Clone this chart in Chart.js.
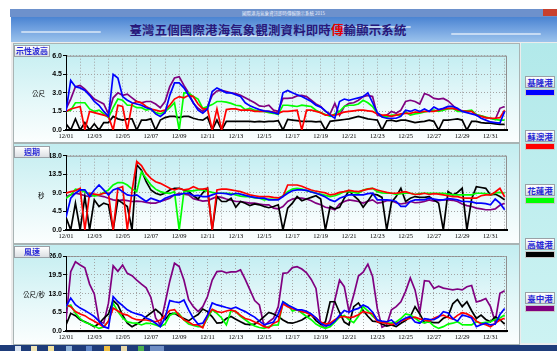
<!DOCTYPE html>
<html>
<head>
<meta charset="utf-8">
<script src="https://cdn.jsdelivr.net/npm/chart.js@4.4.1/dist/chart.umd.min.js"></script>
<style>
  html, body { margin: 0; padding: 0; }
  body { width: 557px; height: 351px; position: relative; overflow: hidden; background: #fff;
         font-family: "Noto Sans CJK TC", "Noto Sans", sans-serif; }
  .abs { position: absolute; }
  #titlebar { left: 10px; top: 9px; width: 547px; height: 8px; background: #6d91cc; }
  #titlebar .cap { position: absolute; left: 0; width: 100%; top: 1px; text-align: center;
                   font-size: 4.5px; line-height: 6px; color: #e8eefa; }
  #closeBtn { left: 543px; top: 9px; width: 14px; height: 7px; background: #c8402e; }
  #banner { left: 11px; top: 17px; width: 546px; height: 25px;
            background: linear-gradient(180deg, #4a84d2 0%, #6fa0df 45%, #9cc3ec 100%); overflow: hidden; }
  .streak { position: absolute; height: 2px; background: rgba(255,255,255,0.55); border-radius: 2px; }
  #title { left: 11px; top: 21px; width: 514px; text-align: center; font-size: 12.4px; font-weight: bold;
           color: #28187a; line-height: 18px; letter-spacing: 0.2px; }
  #main { left: 11px; top: 42px; width: 546px; height: 303px; background: #ececec; }
  .panel { left: 13px; width: 505px; border: 1px solid #a9b4b4;
           background: linear-gradient(180deg, #c2edf0 0%, #e6f8f9 60%, #fbfefe 100%); }
  #side { left: 521px; top: 43px; width: 36px; height: 300px;
          background: linear-gradient(180deg, #b2e9ea 0%, #cdf3f3 100%); }
  .tag { position: absolute; border: 1px solid #9aa0a6; background: linear-gradient(180deg, #ffffff, #dcdfe3);
         color: #2828d6; font-weight: bold; text-align: center; white-space: nowrap; }
  .unit { position: absolute; font-size: 6.5px; color: #000; white-space: nowrap; }
  canvas { position: absolute; left: 0; }
  #taskbar { left: 0; top: 345px; width: 557px; height: 6px; background: #1e3c7a; }
  .icon { position: absolute; top: 346px; width: 6px; height: 5px; }
</style>
</head>
<body>
<div id="titlebar" class="abs"><div class="cap">國際港海氣象資訊即時傳輸顯示系統 2015</div></div>
<div id="closeBtn" class="abs"></div>
<div id="banner" class="abs">
  <div class="streak" style="left:10px;top:14px;width:80px"></div>
  <div class="streak" style="left:150px;top:18px;width:110px"></div>
  <div class="streak" style="left:330px;top:9px;width:70px"></div>
  <div class="streak" style="left:440px;top:16px;width:90px"></div>
</div>
<div id="title" class="abs">臺灣五個國際港海氣象觀測資料即時<span style="color:#e60000">傳</span>輸顯示系統</div>
<div id="main" class="abs"></div>
<div class="abs panel" style="top:43px;height:98px"></div>
<div class="abs panel" style="top:143px;height:99px"></div>
<div class="abs panel" style="top:244px;height:99px"></div>
<div id="side" class="abs"></div>

<canvas id="waveChart" width="519" height="100" style="top:43px"></canvas>
<canvas id="periodChart" width="519" height="100" style="top:143px"></canvas>
<canvas id="windChart" width="519" height="100" style="top:243px"></canvas>

<div class="tag" style="left:14px;top:45px;width:34px;height:10px;font-size:8px;line-height:10px">示性波高</div>
<div class="tag" style="left:14px;top:146px;width:34px;height:10px;font-size:8px;line-height:10px">週期</div>
<div class="tag" style="left:14px;top:246px;width:34px;height:10px;font-size:8px;line-height:10px">風速</div>
<div class="unit" style="left:32px;top:88px">公尺</div>
<div class="unit" style="left:38px;top:190px">秒</div>
<div class="unit" style="left:23px;top:289px">公尺/秒</div>

<div id="legend"></div>

<div id="taskbar" class="abs"></div>
<div class="icon" style="left:15px;background:#d9e4f2"></div>
<div class="icon" style="left:31px;background:#f1e6b8"></div>
<div class="icon" style="left:48px;background:#f3e3a0"></div>
<div class="icon" style="left:66px;background:#8fb3d9"></div>
<div class="icon" style="left:86px;background:#5f86c8"></div>
<div class="icon" style="left:104px;background:#f0c040"></div>
<div class="icon" style="left:121px;background:#e8d9a8"></div>
<div class="icon" style="left:138px;background:#4caf50"></div>
<div class="icon" style="left:150px;width:14px;background:#6f8fc4"></div>

<script>
// sampling: one reading every 8 hours from 12/01 00:00
const stepHours = 8;
const spanHours = 748;

const dateLabels = ['12/01', '12/03', '12/05', '12/07', '12/09', '12/11', '12/13', '12/15',
                    '12/17', '12/19', '12/21', '12/23', '12/25', '12/27', '12/29', '12/31'];
const waveTicks = [0, 1.5, 3.0, 4.5, 6.0];
const periodTicks = [0, 4.5, 9.0, 13.5, 18.0];
const windTicks = [0, 6.5, 13.0, 19.5, 26.0];

const ports = ['基隆港', '蘇澳港', '花蓮港', '高雄港', '臺中港'];
const portColors = ['#0000ff', '#ff0000', '#00ff00', '#000000', '#800080'];

// 示性波高 (m)
const waveKeelung = [1.5,4.0,3.5,3.4,3.2,2.8,2.3,2.0,1.5,1.1,4.5,4.2,2.7,2.4,2.2,2.1,2.0,1.8,1.7,1.3,1.1,1.4,2.8,3.8,3.8,3.4,2.8,
  2.2,1.6,1.35,1.7,3.1,3.4,3.2,3.0,3.0,2.85,2.7,2.2,1.95,1.8,1.65,1.55,1.5,1.4,1.3,3.0,3.2,3.0,2.85,2.7,2.5,2.3,2.0,1.85,1.55,1.2,0.95,2.3,2.5,2.4,2.5,2.6,2.7,3.0,2.2,
  1.4,1.05,0.95,0.95,0.95,1.1,1.6,1.5,1.65,1.5,1.7,1.5,1.85,1.65,1.75,1.9,1.9,1.75,1.5,1.4,1.3,1.2,0.95,0.8,0.65,0.6,0.55,1.5];
const waveSuao = [1.5,1.7,1.8,1.9,0,1.5,1.4,1.3,1.2,1.1,0,2.0,1.9,0,2.1,2.3,2.2,1.9,1.7,1.6,1.5,1.6,2.0,2.5,2.7,2.6,2.8,
  2.7,2.1,1.7,1.7,0,1.7,0,1.65,1.7,1.7,1.6,1.6,1.6,1.5,1.5,1.5,1.5,1.45,1.35,1.5,1.5,1.55,1.6,0,1.6,1.6,1.5,1.4,1.2,1.2,1.2,1.3,1.45,1.5,1.55,1.6,1.6,1.55,1.5,
  1.3,1.2,1.2,1.1,1.2,1.3,1.35,1.35,1.45,1.45,1.5,1.5,1.5,1.6,1.7,1.75,1.75,1.65,1.55,1.5,1.5,1.2,1.1,1.0,0.95,0.95,1.0,1.6];
const waveHualien = [1.5,1.6,2.2,2.2,2.2,1.7,1.5,1.6,1.3,1.0,1.8,2.5,2.4,2.0,2.0,1.8,1.8,1.6,1.7,1.4,1.3,1.5,1.8,2.2,0,3.0,3.0,
  2.7,2.5,1.75,1.9,2.05,2.3,2.3,2.25,2.15,2.0,1.95,1.65,1.75,1.6,1.5,1.5,1.4,1.35,1.25,2.0,2.0,1.95,1.9,2.0,1.95,1.9,1.6,1.4,1.25,1.1,1.3,1.5,1.9,2.0,2.0,2.1,2.4,2.2,1.9,
  1.35,1.15,1.05,1.2,1.2,1.2,1.45,1.2,1.3,1.35,1.45,1.55,1.6,1.5,1.6,1.7,1.75,1.5,1.5,1.55,1.6,1.25,1.15,1.05,0.95,0.85,0.8,0.8];
const waveKaohsiung = [0.5,0,0.9,0,0.6,0,0.5,0,0.6,0.6,1.1,0.9,0.8,0.9,0.9,0,0.8,0.8,0.9,0,0.8,1.0,1.1,1.1,1.0,1.1,1.1,
  0.95,0.85,0.8,1.05,0,0.8,0,0.7,0.7,0.7,0.7,0.7,0.7,0.65,0.7,0.65,0.7,0.7,0.75,0,0.85,0.8,0.75,0.7,0.7,0.7,0.65,0.7,0,0.7,0.75,0.8,0.85,0.9,1.0,1.1,1.0,0.9,0.85,
  0.8,0,0.75,0.8,0.7,0.8,0.8,0.7,0.6,0.65,0.7,0.8,0.7,0,0.8,0.8,0.85,0.9,0.8,0,0.7,0.7,0.6,0.55,0.55,0.5,0.45,0.45];
const waveTaichung = [1.7,2.5,3.5,3.6,3.3,2.9,2.5,2.3,2.1,1.3,2.6,3.0,2.8,2.9,2.6,2.3,2.2,2.3,2.3,2.1,1.8,2.3,3.5,4.2,4.3,3.6,3.0,
  2.15,1.75,1.5,1.9,2.8,3.15,3.2,3.1,3.0,2.95,2.8,2.6,2.4,2.2,1.95,1.9,2.0,1.6,1.5,2.55,2.55,2.6,2.75,2.8,2.7,2.4,2.1,1.9,1.5,1.3,2.15,1.2,1.9,2.15,2.2,2.4,2.7,2.8,2.7,
  1.2,1.1,1.2,1.5,1.35,1.6,2.3,2.4,2.3,2.1,2.95,2.8,2.55,2.5,2.55,2.35,2.0,1.6,1.5,1.55,1.55,1.2,1.15,1.0,0.95,0.85,1.75,1.9];

// 週期 (s)
const periodKeelung = [3.1,7.7,8.9,9.7,9.7,8.1,9.7,10.9,9.7,8.5,9.7,10.1,9.3,8.5,8.3,8.5,7.7,6.9,7.7,7.3,6.9,7.7,8.1,8.5,8.5,8.9,8.9,
  8.3,8.4,8.1,8.1,8.5,8.9,8.9,8.8,8.5,8.9,8.7,8.4,8.1,7.9,7.7,7.7,7.3,7.3,7.3,8.1,8.9,9.5,9.7,9.7,9.6,9.2,8.9,8.5,8.0,7.3,6.9,7.7,8.1,8.5,8.5,8.5,8.5,8.8,8.9,
  7.3,7.3,7.3,7.2,6.9,5.7,5.7,6.9,7.3,7.3,7.3,7.7,7.5,7.3,7.3,7.6,7.5,7.3,6.9,6.9,6.8,6.5,6.5,6.4,6.1,7.5,6.5,4.9];
const periodSuao = [8.9,9.3,9.5,10.1,0,8.9,8.7,8.5,8.9,8.9,0,10.1,10.5,0,9.5,16.6,15.6,13.7,12.5,11.7,11.3,10.7,10.1,9.7,10.1,9.7,9.9,
  10.5,10.0,9.9,10.1,0,9.7,9.9,9.9,9.7,9.5,9.3,8.9,8.5,8.3,8.1,8.1,8.1,7.9,7.8,8.1,10.9,10.9,10.9,10.6,10.1,9.7,9.4,9.2,9.0,8.5,8.7,9.1,9.3,9.6,9.4,9.3,9.6,9.9,10.1,
  9.7,9.4,9.1,8.9,8.9,9.1,9.3,8.9,8.6,8.7,8.9,8.6,8.8,8.7,8.5,8.3,8.1,8.1,7.8,7.7,7.7,7.7,8.3,8.5,8.5,9.2,10.1,8.0];
const periodHualien = [7.7,8.5,9.9,9.7,9.2,8.7,8.2,8.5,9.1,9.7,10.9,11.5,11.5,10.9,9.9,9.3,14.1,12.5,10.9,9.9,9.3,9.0,8.9,9.3,0,9.3,9.5,
  9.5,9.7,9.7,9.4,9.1,8.9,8.9,8.9,8.8,8.5,8.2,8.1,8.1,7.8,7.7,7.3,7.5,7.4,7.5,8.3,9.3,9.9,10.1,9.9,9.5,9.3,8.9,8.7,8.4,8.1,8.3,8.7,9.3,9.3,9.1,8.9,9.7,10.0,10.1,
  9.3,9.0,8.9,8.9,8.6,8.8,8.9,8.9,8.6,8.8,8.9,8.9,8.9,8.9,8.9,8.7,8.5,8.5,8.5,8.5,8.5,8.9,8.9,8.8,8.5,9.0,9.1,8.9];
const periodKaohsiung = [3.1,0,6.5,0,8.1,0,7.3,5.7,6.5,6.1,0,7.3,6.5,5.7,0,15.8,14.5,11.7,9.7,8.9,8.5,8.9,9.7,10.1,10.1,9.7,9.3,
  8.3,7.5,9.0,10.1,0,8.1,6.9,6.9,7.7,5.5,6.9,6.5,5.9,6.3,6.1,5.7,5.4,5.7,6.1,0,5.3,6.5,8.1,7.1,7.5,7.9,8.3,7.5,0,5.7,5.1,5.5,7.7,9.5,8.3,7.3,5.5,7.0,8.7,
  8.5,7.9,0,6.7,8.1,10.1,6.9,7.7,8.1,7.9,7.9,8.1,7.3,6.5,0,9.3,8.5,9.1,10.1,0,7.5,10.5,10.3,10.1,8.5,8.7,8.1,7.3];
const periodTaichung = [8.1,8.5,8.9,8.7,8.3,8.1,8.5,8.3,8.1,7.7,7.3,7.1,7.3,7.1,6.9,7.0,6.9,6.7,6.5,6.5,6.9,7.3,7.7,8.5,8.9,8.7,8.5,
  7.6,7.3,7.0,7.1,7.6,8.1,7.9,7.5,7.2,6.9,6.9,6.7,6.5,6.5,6.3,6.1,6.1,5.3,5.1,5.7,6.9,7.5,7.7,7.7,7.5,7.1,6.5,6.1,5.5,5.3,4.9,6.3,6.9,7.3,7.1,6.9,6.5,7.0,7.3,
  6.5,6.7,7.1,7.1,6.6,6.3,6.5,6.9,6.6,6.7,6.9,7.3,7.0,7.1,7.3,7.3,7.2,6.9,6.3,5.9,5.7,5.3,5.1,4.9,4.9,5.1,6.0,6.5];

// 風速 (m/s)
const windKeelung = [8.5,11.5,9.2,8.0,7.2,6.2,5.1,3.5,1.6,1.0,12.0,10.2,8.9,7.4,6.6,6.0,5.6,4.6,3.9,2.8,1.6,4.6,10.6,10.2,9.9,10.8,7.4,
  4.5,2.5,2.8,5.6,9.8,9.1,8.7,8.2,7.8,8.3,7.5,6.8,5.8,4.9,3.5,2.3,2.7,3.2,6.0,10.2,9.1,8.3,7.4,7.4,6.9,6.0,4.6,2.8,1.9,2.2,3.5,5.5,7.2,6.6,7.4,7.9,9.1,8.3,6.6,
  3.9,3.5,3.3,3.9,2.3,3.7,4.6,5.1,3.2,2.8,4.4,4.1,4.0,4.9,6.8,6.3,4.4,3.5,5.6,5.2,4.6,1.6,2.3,2.8,2.2,2.5,5.8,7.9];
const windSuao = [9.1,8.5,6.8,6.0,5.4,4.3,3.5,2.5,1.5,3.5,8.0,7.0,6.0,5.6,4.6,4.0,3.9,3.9,3.6,3.3,3.9,5.5,7.2,7.5,5.5,4.0,3.2,
  2.2,2.2,1.2,5.5,7.6,6.8,6.5,7.0,7.4,6.8,5.5,4.4,4.0,3.2,2.5,1.6,1.2,2.8,3.5,9.5,8.5,7.8,7.4,6.8,6.4,5.5,4.6,3.2,2.5,2.8,4.0,4.9,5.1,4.7,5.0,5.7,6.8,6.4,6.1,
  3.3,3.0,2.8,2.3,2.7,3.5,4.1,4.5,4.9,4.3,3.9,3.5,4.5,5.2,5.6,4.8,4.2,5.5,6.4,6.0,5.1,3.5,2.7,2.3,1.6,2.8,3.9,4.5];
const windHualien = [8.5,9.1,6.2,4.4,3.1,2.5,1.8,1.0,1.5,3.5,9.7,6.8,4.6,3.3,2.9,2.8,2.2,2.8,2.7,2.2,1.6,2.5,5.5,6.3,6.0,3.9,2.5,
  2.0,1.6,1.6,4.6,7.4,6.2,4.6,2.2,7.2,6.8,5.2,4.0,2.8,1.8,1.3,1.0,1.6,2.1,2.2,10.2,9.2,7.0,7.5,6.3,5.1,4.0,2.5,1.6,1.0,1.6,3.2,4.9,5.5,4.0,3.0,5.2,8.5,7.1,5.2,
  3.9,3.2,2.8,2.8,3.2,4.4,6.0,5.6,4.6,3.3,2.9,3.3,1.8,1.0,1.6,2.5,2.8,3.3,2.3,2.2,2.2,3.3,2.8,3.1,3.3,4.1,4.6,5.6];
const windKaohsiung = [2.2,6.2,5.4,4.0,3.3,2.5,1.6,2.7,4.5,6.0,10.6,9.1,5.6,2.8,1.6,2.5,3.5,5.1,6.3,7.6,6.2,4.0,6.0,6.2,5.2,4.4,3.6,
  4.8,5.8,7.7,6.8,5.0,2.8,3.0,4.4,5.1,4.2,3.3,2.5,2.3,2.5,3.6,5.1,6.5,6.0,5.1,3.9,3.0,2.8,3.3,3.9,4.9,5.7,3.7,2.4,3.2,10.2,10.2,6.5,3.2,2.2,8.5,9.8,7.2,5.2,3.5,
  3.3,2.5,1.8,2.2,1.6,2.8,3.7,5.1,8.5,6.0,3.0,3.3,3.0,3.0,4.5,5.1,9.5,11.0,8.5,10.2,7.1,4.4,5.6,4.1,3.3,5.0,4.0,2.5];
const windTaichung = [3.9,20.6,24.0,22.9,21.9,16.3,12.9,3.5,2.8,9.7,22.6,20.7,22.9,20.0,19.2,17.7,16.3,15.0,11.7,4.6,2.2,9.7,17.3,23.5,22.4,17.7,10.9,
  8.5,6.8,8.5,12.0,17.7,20.6,20.8,20.2,20.5,20.5,21.2,17.9,14.3,10.6,9.1,1.8,3.3,4.5,8.5,20.0,20.2,22.0,22.3,21.5,20.2,17.9,14.8,2.5,1.0,3.9,10.8,17.7,15.4,6.8,12.5,19.1,20.4,23.2,18.9,
  7.9,1.4,2.2,7.4,8.5,10.2,13.8,18.4,14.3,6.5,17.5,17.3,14.8,15.6,14.9,14.6,14.3,14.6,14.3,15.4,15.8,10.1,10.6,11.3,8.5,3.3,13.1,14.0];

// plot background gradient + frame
const plotFrame = {
  id: 'plotFrame',
  beforeDraw(chart) {
    const { ctx, chartArea: a } = chart;
    const g = ctx.createLinearGradient(0, a.top, 0, a.bottom);
    g.addColorStop(0, '#c4eef2');
    g.addColorStop(1, '#ffffff');
    ctx.save();
    ctx.fillStyle = g;
    ctx.fillRect(a.left, a.top, a.right - a.left, a.bottom - a.top);
    ctx.strokeStyle = '#8f8f8f';
    ctx.lineWidth = 1;
    ctx.strokeRect(a.left + 0.5, a.top + 0.5, a.right - a.left - 1, a.bottom - a.top);
    ctx.restore();
  }
};

function makeChart(id, ticks, series, padTop, axisH) {
  const yMax = ticks[ticks.length - 1];
  const yStep = ticks[1] - ticks[0];
  return new Chart(document.getElementById(id), {
    type: 'line',
    data: {
      datasets: series.map((vals, k) => ({
        label: ports[k],
        data: vals.map((v, i) => ({ x: i * stepHours, y: v })),
        borderColor: portColors[k],
        borderWidth: 1.7,
        pointRadius: 0,
        tension: 0,
        fill: false
      }))
    },
    options: {
      responsive: false,
      animation: false,
      events: [],
      layout: { padding: { left: 0, right: 12, top: padTop, bottom: 0 } },
      plugins: { legend: { display: false }, tooltip: { enabled: false } },
      scales: {
        x: {
          type: 'linear', min: 0, max: spanHours,
          afterFit: s => { s.height = axisH; },
          ticks: {
            stepSize: 24, autoSkip: false, maxRotation: 0, includeBounds: false, padding: 2,
            color: '#000', font: { family: 'Liberation Serif', size: 6.5 },
            callback: v => {
              const d = Math.round(v / 24);
              return (Math.abs(v - d * 24) < 0.01 && d % 2 === 0) ? (dateLabels[d / 2] || '') : '';
            }
          },
          grid: { color: '#a4a4a4', drawTicks: false },
          border: { color: '#000', width: 2, dash: [1, 2] }
        },
        y: {
          min: 0, max: yMax,
          afterFit: s => { s.width = 66; },
          ticks: {
            stepSize: yStep, padding: 1, color: '#000',
            font: { family: 'Liberation Sans', size: 7, weight: 'bold' },
            callback: v => v.toFixed(1)
          },
          grid: { color: '#a4a4a4', tickLength: 3, tickColor: '#000' },
          border: { color: '#000', width: 1, dash: [1, 2] }
        }
      }
    },
    plugins: [plotFrame]
  });
}

makeChart('waveChart', waveTicks,
  [waveKeelung, waveSuao, waveHualien, waveKaohsiung, waveTaichung], 12.7, 13);
makeChart('periodChart', periodTicks,
  [periodKeelung, periodSuao, periodHualien, periodKaohsiung, periodTaichung], 12.7, 13);
makeChart('windChart', windTicks,
  [windKeelung, windSuao, windHualien, windKaohsiung, windTaichung], 13, 11.7);

// side legend
const legend = document.getElementById('legend');
ports.forEach((name, k) => {
  const top = 76 + 54 * k;
  const tag = document.createElement('div');
  tag.className = 'tag';
  tag.style.cssText = `left:525px;top:${top}px;width:28px;height:10px;font-size:8.5px;line-height:10px`;
  tag.textContent = name;
  legend.appendChild(tag);
  const bar = document.createElement('div');
  bar.className = 'abs';
  bar.style.cssText = `left:525px;top:${top + 13}px;width:30px;height:7px;background:${portColors[k]};border:1px solid #c8c8c8;box-sizing:border-box`;
  legend.appendChild(bar);
});
</script>
</body>
</html>
